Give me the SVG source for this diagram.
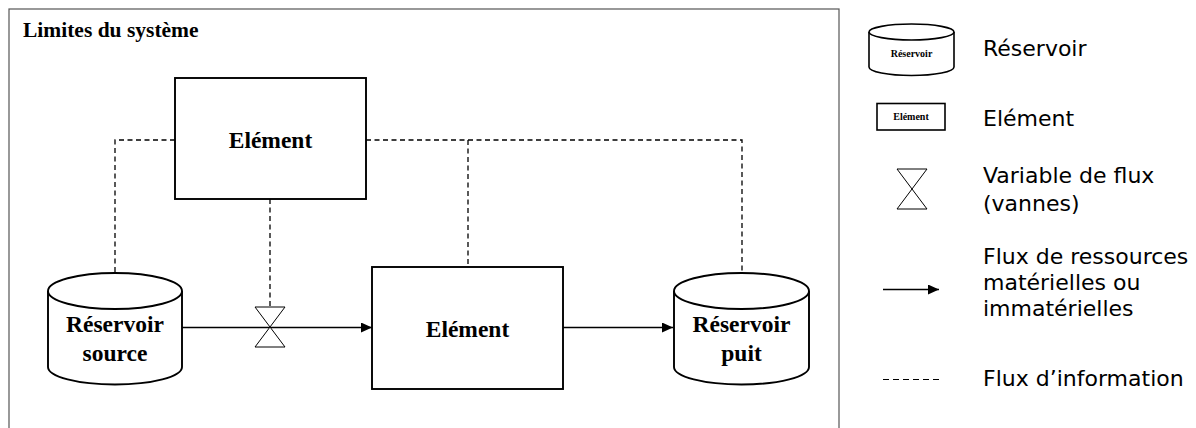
<svg xmlns="http://www.w3.org/2000/svg" width="1196" height="428" viewBox="0 0 1196 428">
<style>
.lbl{font-family:"Liberation Serif","Times New Roman",serif;font-weight:bold;font-size:23.5px;fill:#000;text-anchor:middle}
.sml{font-family:"Liberation Serif","Times New Roman",serif;font-weight:bold;font-size:10px;fill:#000;text-anchor:middle}
.leg{font-family:"DejaVu Sans","Open Sans",sans-serif;font-size:22px;fill:#000}
.shape{fill:#fff;stroke:#000;stroke-width:1.9}
.info{fill:none;stroke:#000;stroke-width:1.3;stroke-dasharray:5 3.5}
.flow{fill:none;stroke:#000;stroke-width:1.6}
.valve{fill:#fff;stroke:#000;stroke-width:1}
</style>
<defs>
<marker id="arr" markerWidth="11" markerHeight="10" refX="11" refY="5" orient="auto" markerUnits="userSpaceOnUse">
<path d="M0,0 L11,5 L0,10 Z" fill="#000"/>
</marker>
</defs>
<rect width="1196" height="428" fill="#fff"/>
<g id="boundary">
<rect x="9" y="9" width="830" height="440" fill="none" stroke="#555" stroke-width="1.2"/>
<text x="23" y="37" style="font-family:'Liberation Serif','Times New Roman',serif;font-weight:bold;font-size:21.5px">Limites du système</text>
</g>
<g id="connectors">
<path class="info" d="M175,140 H115 V273"/>
<path class="info" d="M366,140 H742 V273"/>
<path class="info" d="M468,140 V267"/>
<path class="info" d="M270,199 V307"/>
<path class="flow" d="M182,327.5 H372" marker-end="url(#arr)"/>
<path class="flow" d="M563,327.5 H673" marker-end="url(#arr)"/>
</g>
<g id="element-top">
<rect class="shape" x="175" y="78" width="191" height="121"/>
<text class="lbl" x="270.5" y="148">Elément</text>
</g>
<g id="element-main">
<rect class="shape" x="372" y="267" width="191" height="122"/>
<text class="lbl" x="467.5" y="337">Elément</text>
</g>
<g id="reservoir-source">
<path class="shape" d="M48,291 V367 A67,17.5 0 0 0 182,367 V291"/>
<ellipse class="shape" cx="115" cy="291" rx="67" ry="18"/>
<text class="lbl" x="115" y="332">Réservoir</text>
<text class="lbl" x="115" y="361">source</text>
</g>
<g id="reservoir-puit">
<path class="shape" d="M674,291 V367 A67.5,17.5 0 0 0 809,367 V291"/>
<ellipse class="shape" cx="741.5" cy="291" rx="67.5" ry="18"/>
<text class="lbl" x="741.5" y="332">Réservoir</text>
<text class="lbl" x="741.5" y="361">puit</text>
</g>
<g id="valve">
<path class="valve" d="M255,307 H285 L255,347 H285 Z"/>
</g>
<g id="legend">
<g id="legend-reservoir">
<path class="shape" style="stroke-width:1.6" d="M869,32 V67 A42.5,8.5 0 0 0 954,67 V32"/>
<ellipse class="shape" style="stroke-width:1.6" cx="911.5" cy="32" rx="42.5" ry="8"/>
<text class="sml" x="911.5" y="57">Réservoir</text>
<text class="leg" x="983" y="56">Réservoir</text>
</g>
<g id="legend-element">
<rect class="shape" style="stroke-width:1.6" x="877" y="103.5" width="68" height="26.5"/>
<text class="sml" x="911" y="120">Elément</text>
<text class="leg" x="983" y="126">Elément</text>
</g>
<g id="legend-valve">
<path class="valve" d="M897,169 H927 L897,209 H927 Z"/>
<text class="leg" x="983" y="182.5">Variable de flux</text>
<text class="leg" x="983" y="210.5">(vannes)</text>
</g>
<g id="legend-flow">
<path class="flow" d="M883,289.5 H939" marker-end="url(#arr)"/>
<text class="leg" x="983" y="264">Flux de ressources</text>
<text class="leg" x="983" y="290">matérielles ou</text>
<text class="leg" x="983" y="316">immatérielles</text>
</g>
<g id="legend-info">
<path d="M883,379.5 H939" fill="none" stroke="#000" stroke-width="1" stroke-dasharray="6 4"/>
<text class="leg" x="983" y="385.5">Flux d’information</text>
</g>
</g>
</svg>
